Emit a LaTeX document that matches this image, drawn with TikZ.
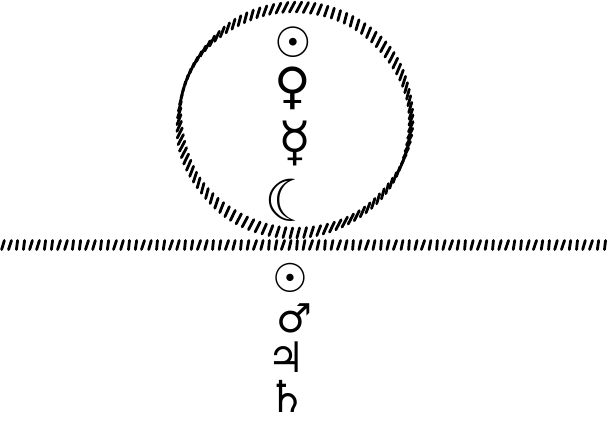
\documentclass[tikz,border=0pt]{standalone}
\usepackage{fontspec}
\newfontfamily\symfont{DejaVu Sans}
\begin{document}
\begin{tikzpicture}[x=1pt, y=-1pt,
    planet/.style={font=\symfont\fontsize{#1}{#1}\selectfont, inner sep=0pt},
    planet/.default=40,
    hatch/.style={line width=2.8pt, line cap=round}
]
\useasboundingbox (0,0) rectangle (610,429);

% Ring round the inner planets
\coordinate (ringc) at (295,120);
\foreach \t in {0,3.4,...,357} {
    \draw[hatch] ({295+116*cos(\t)-2-0.7*sin(7*\t)},{120+113*sin(\t)+5}) -- ({295+116*cos(\t)+2+0.7*sin(7*\t)},{120+113*sin(\t)-5});
}

% Horizon
\foreach \x in {3,10,...,610} {
    \draw[hatch] ({\x-1-0.6*sin(13*\x)},249.5) -- ({\x+1+0.6*sin(13*\x)},240.5);
}

% Inside
\node[planet=42] (sunA) at (293,42) {☉};
\node[planet=50] (venus) at (293,88) {♀};
\node[planet=54] (mercury) at (295,143) {☿};
\node[planet=58] (moon) at (290,200) {☾};

% Below
\node[planet=40] (sunB) at (290,278) {☉};
\node[planet=40] (mars) at (294,318) {♂};
\node[planet=42] (jupiter) at (286,357) {♃};
\node[planet=44] (saturn) at (287,396) {♄};
\end{tikzpicture}
\end{document}
